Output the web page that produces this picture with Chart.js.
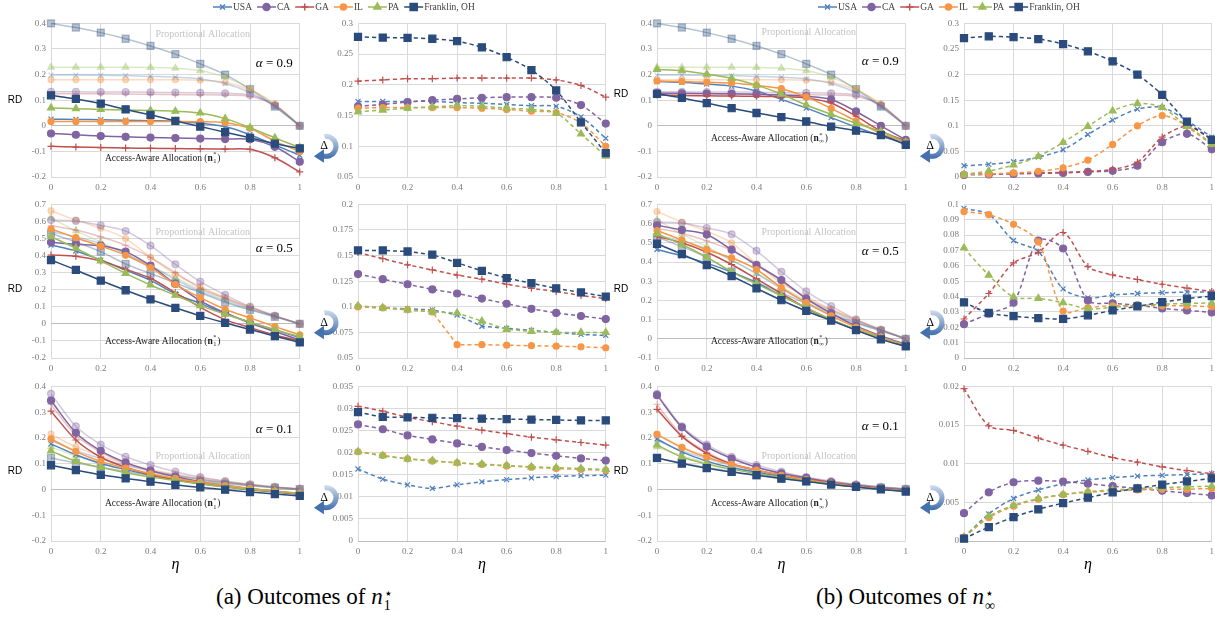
<!DOCTYPE html>
<html>
<head>
<meta charset="utf-8">
<script src="https://cdn.jsdelivr.net/npm/chart.js@4.4.0/dist/chart.umd.min.js"></script>
<style>
  html, body { margin: 0; padding: 0; background: #fff; overflow: hidden; }
  #fig { position: relative; width: 1215px; height: 618px; overflow: hidden; background: #fff; }
  #fig canvas { position: absolute; }
  .cap { position: absolute; top: 584px; font-family: "Liberation Serif", serif; font-size: 23px; color: #000; white-space: nowrap; }
  .cap .ss { display: inline-block; vertical-align: -6px; line-height: 12px; font-size: 14px; margin-left: 1px; }
  .cap .ss span { display: block; }
</style>
</head>
<body>
<div id="fig">
  <div class="cap" style="left:216px">(a) Outcomes of <i>n</i><span class="ss"><span>&#8902;</span><span>1</span></span></div>
  <div class="cap" style="left:816px">(b) Outcomes of <i>n</i><span class="ss"><span>&#8902;</span><span>&#8734;</span></span></div>
</div>
<script>
// x values (eta) and series
const eta = [0, 0.1, 0.2, 0.3, 0.4, 0.5, 0.6, 0.7, 0.8, 0.9, 1];
const names = ['USA', 'CA', 'GA', 'IL', 'PA', 'Franklin, OH'];

// each array: one row per series in the order of names
// Proportional allocation (same in (a) and (b))
const prop09 = [
  [0.198, 0.198, 0.197, 0.196, 0.193, 0.19, 0.183, 0.165, 0.13, 0.075, 0],
  [0.133, 0.133, 0.132, 0.132, 0.131, 0.13, 0.129, 0.127, 0.12, 0.08, 0],
  [0.125, 0.125, 0.125, 0.124, 0.123, 0.122, 0.121, 0.12, 0.115, 0.08, 0],
  [0.18, 0.18, 0.18, 0.18, 0.18, 0.18, 0.178, 0.17, 0.14, 0.085, 0],
  [0.229, 0.229, 0.229, 0.229, 0.228, 0.225, 0.215, 0.19, 0.145, 0.082, 0],
  [0.4, 0.384, 0.364, 0.34, 0.312, 0.28, 0.242, 0.2, 0.143, 0.075, 0]
];
const prop05 = [
  [0.54, 0.51, 0.47, 0.41, 0.34, 0.26, 0.19, 0.135, 0.085, 0.045, 0],
  [0.608, 0.603, 0.577, 0.544, 0.458, 0.349, 0.247, 0.17, 0.101, 0.047, 0],
  [0.575, 0.55, 0.51, 0.46, 0.39, 0.3, 0.21, 0.15, 0.095, 0.045, 0],
  [0.663, 0.608, 0.56, 0.5, 0.39, 0.29, 0.22, 0.155, 0.1, 0.05, 0],
  [0.62, 0.545, 0.48, 0.41, 0.34, 0.27, 0.2, 0.145, 0.09, 0.045, 0],
  [0.53, 0.48, 0.423, 0.351, 0.295, 0.24, 0.183, 0.127, 0.082, 0.041, 0]
];
const prop01 = [
  [0.19, 0.15, 0.12, 0.093, 0.072, 0.055, 0.04, 0.028, 0.017, 0.008, 0.001],
  [0.371, 0.245, 0.174, 0.127, 0.095, 0.069, 0.048, 0.032, 0.02, 0.01, 0.003],
  [0.33, 0.21, 0.145, 0.1, 0.075, 0.055, 0.04, 0.028, 0.017, 0.008, 0.001],
  [0.215, 0.165, 0.13, 0.1, 0.078, 0.06, 0.045, 0.032, 0.02, 0.01, 0.002],
  [0.165, 0.13, 0.105, 0.083, 0.065, 0.05, 0.037, 0.026, 0.016, 0.008, 0.001],
  [0.122, 0.103, 0.085, 0.07, 0.055, 0.042, 0.032, 0.022, 0.014, 0.007, 0.001]
];

// (a) access-aware allocation n1 and its gap
const n1_09 = [
  [0.026, 0.025, 0.024, 0.022, 0.02, 0.018, 0.01, -0.003, -0.035, -0.075, -0.115],
  [-0.03, -0.035, -0.04, -0.043, -0.046, -0.048, -0.05, -0.052, -0.053, -0.082, -0.14],
  [-0.08, -0.083, -0.085, -0.087, -0.088, -0.089, -0.09, -0.091, -0.092, -0.125, -0.18],
  [0.017, 0.017, 0.017, 0.017, 0.017, 0.017, 0.016, 0.012, -0.01, -0.06, -0.1],
  [0.07, 0.067, 0.064, 0.062, 0.06, 0.057, 0.05, 0.028, -0.007, -0.047, -0.085],
  [0.119, 0.105, 0.087, 0.064, 0.043, 0.019, -0.003, -0.025, -0.047, -0.07, -0.088]
];
const d1_09 = [
  [0.173, 0.173, 0.173, 0.173, 0.171, 0.17, 0.168, 0.166, 0.165, 0.148, 0.113],
  [0.165, 0.168, 0.172, 0.175, 0.177, 0.179, 0.18, 0.18, 0.179, 0.167, 0.137],
  [0.206, 0.208, 0.21, 0.21, 0.211, 0.211, 0.211, 0.211, 0.208, 0.199, 0.18],
  [0.162, 0.163, 0.163, 0.163, 0.163, 0.162, 0.16, 0.157, 0.155, 0.138, 0.1],
  [0.156, 0.159, 0.162, 0.164, 0.166, 0.165, 0.162, 0.16, 0.154, 0.12, 0.084],
  [0.278, 0.277, 0.2765, 0.275, 0.271, 0.261, 0.245, 0.224, 0.191, 0.139, 0.089]
];
const n1_05 = [
  [0.462, 0.427, 0.374, 0.315, 0.255, 0.176, 0.12, 0.06, 0.01, -0.035, -0.08],
  [0.478, 0.466, 0.458, 0.423, 0.341, 0.234, 0.135, 0.065, 0.005, -0.045, -0.095],
  [0.403, 0.396, 0.369, 0.32, 0.267, 0.183, 0.097, 0.025, -0.022, -0.065, -0.1],
  [0.556, 0.505, 0.456, 0.402, 0.33, 0.232, 0.154, 0.086, 0.035, -0.016, -0.064],
  [0.511, 0.443, 0.369, 0.296, 0.228, 0.168, 0.107, 0.057, 0.01, -0.035, -0.075],
  [0.374, 0.316, 0.254, 0.197, 0.143, 0.094, 0.047, 0.006, -0.033, -0.072, -0.109]
];
const d1_05 = [
  [0.1, 0.099, 0.098, 0.097, 0.092, 0.081, 0.079, 0.077, 0.075, 0.073, 0.072],
  [0.132, 0.127, 0.122, 0.117, 0.113, 0.108, 0.103, 0.098, 0.094, 0.091, 0.088],
  [0.153, 0.147, 0.141, 0.136, 0.131, 0.127, 0.122, 0.118, 0.115, 0.111, 0.108],
  [0.1, 0.099, 0.097, 0.095, 0.063, 0.063, 0.0625, 0.062, 0.0615, 0.061, 0.06],
  [0.101, 0.099, 0.097, 0.095, 0.094, 0.086, 0.078, 0.076, 0.075, 0.075, 0.075],
  [0.155, 0.155, 0.154, 0.151, 0.143, 0.135, 0.128, 0.123, 0.118, 0.114, 0.11]
];
const n1_01 = [
  [0.177, 0.135, 0.101, 0.077, 0.055, 0.038, 0.025, 0.012, 0.002, -0.008, -0.017],
  [0.345, 0.22, 0.15, 0.105, 0.073, 0.05, 0.03, 0.016, 0.004, -0.007, -0.017],
  [0.304, 0.192, 0.125, 0.086, 0.057, 0.038, 0.022, 0.01, -0.001, -0.01, -0.02],
  [0.196, 0.147, 0.109, 0.083, 0.061, 0.043, 0.028, 0.015, 0.004, -0.006, -0.015],
  [0.15, 0.109, 0.086, 0.065, 0.048, 0.035, 0.022, 0.01, 0, -0.008, -0.016],
  [0.094, 0.075, 0.057, 0.043, 0.03, 0.018, 0.008, -0.001, -0.01, -0.018, -0.025]
];
const d1_01 = [
  [0.0163, 0.014, 0.0127, 0.0119, 0.0127, 0.0134, 0.0139, 0.0143, 0.0146, 0.0148, 0.0149],
  [0.0264, 0.0253, 0.0239, 0.023, 0.0221, 0.0213, 0.0206, 0.0199, 0.0193, 0.0187, 0.0182],
  [0.0305, 0.0294, 0.028, 0.027, 0.026, 0.0251, 0.0243, 0.0235, 0.0229, 0.0223, 0.0217],
  [0.0202, 0.0194, 0.0186, 0.0181, 0.0177, 0.0173, 0.017, 0.0167, 0.0164, 0.0162, 0.016],
  [0.0202, 0.0193, 0.0186, 0.0182, 0.0177, 0.0174, 0.0171, 0.0168, 0.0166, 0.0164, 0.0162],
  [0.0292, 0.0281, 0.028, 0.0279, 0.0278, 0.0277, 0.0276, 0.0275, 0.0274, 0.0273, 0.0273]
];

// (b) access-aware allocation n-infinity and its gap
const nInf_09 = [
  [0.173, 0.17, 0.163, 0.155, 0.136, 0.103, 0.069, 0.032, -0.005, -0.04, -0.07],
  [0.128, 0.127, 0.126, 0.125, 0.123, 0.12, 0.115, 0.103, 0.056, 0, -0.055],
  [0.12, 0.118, 0.117, 0.116, 0.115, 0.114, 0.109, 0.089, 0.0375, -0.02, -0.06],
  [0.175, 0.173, 0.17, 0.167, 0.158, 0.145, 0.113, 0.068, 0.019, -0.03, -0.065],
  [0.22, 0.215, 0.202, 0.185, 0.159, 0.124, 0.0815, 0.045, 0.009, -0.022, -0.065],
  [0.125, 0.109, 0.089, 0.0686, 0.05, 0.0336, 0.0168, -0.003, -0.019, -0.036, -0.074]
];
const dInf_09 = [
  [0.022, 0.0247, 0.0299, 0.039, 0.0532, 0.083, 0.111, 0.1325, 0.1357, 0.11, 0.078],
  [0.004, 0.005, 0.006, 0.007, 0.008, 0.01, 0.012, 0.022, 0.068, 0.0844, 0.054],
  [0.006, 0.006, 0.007, 0.008, 0.009, 0.011, 0.015, 0.029, 0.078, 0.0987, 0.075],
  [0.005, 0.006, 0.008, 0.011, 0.018, 0.033, 0.0636, 0.1, 0.12, 0.1, 0.065],
  [0.005, 0.0117, 0.0234, 0.0403, 0.0675, 0.0987, 0.129, 0.1435, 0.1357, 0.0987, 0.0636],
  [0.2714, 0.2747, 0.273, 0.2695, 0.2597, 0.2455, 0.226, 0.2, 0.1604, 0.108, 0.0727]
];
const nInf_05 = [
  [0.465, 0.432, 0.394, 0.347, 0.292, 0.225, 0.16, 0.1, 0.048, 0.005, -0.038],
  [0.591, 0.567, 0.543, 0.464, 0.384, 0.306, 0.209, 0.133, 0.067, 0.015, -0.028],
  [0.533, 0.5, 0.451, 0.387, 0.312, 0.236, 0.159, 0.1, 0.045, 0, -0.04],
  [0.564, 0.515, 0.464, 0.422, 0.361, 0.266, 0.188, 0.119, 0.06, 0.01, -0.035],
  [0.547, 0.491, 0.425, 0.349, 0.286, 0.224, 0.162, 0.1, 0.05, 0.005, -0.037],
  [0.495, 0.441, 0.384, 0.327, 0.263, 0.201, 0.145, 0.095, 0.045, -0.003, -0.04]
];
const dInf_05 = [
  [0.0974, 0.0935, 0.0765, 0.0694, 0.045, 0.0392, 0.041, 0.042, 0.0425, 0.0429, 0.043],
  [0.022, 0.0289, 0.036, 0.0765, 0.0713, 0.0375, 0.0356, 0.0343, 0.0323, 0.031, 0.0297],
  [0.0254, 0.042, 0.0619, 0.0688, 0.0817, 0.0595, 0.0541, 0.0511, 0.048, 0.0455, 0.0433],
  [0.0953, 0.0933, 0.087, 0.0756, 0.0306, 0.0328, 0.034, 0.034, 0.034, 0.034, 0.0334],
  [0.0716, 0.0539, 0.0397, 0.0388, 0.036, 0.032, 0.033, 0.034, 0.035, 0.0355, 0.0358],
  [0.0362, 0.0293, 0.0272, 0.026, 0.0254, 0.0278, 0.031, 0.0336, 0.0364, 0.0386, 0.0403]
];
const nInf_01 = [
  [0.196, 0.146, 0.11, 0.085, 0.067, 0.05, 0.034, 0.021, 0.01, 0.001, -0.006],
  [0.366, 0.241, 0.166, 0.12, 0.0865, 0.063, 0.045, 0.028, 0.015, 0.005, -0.003],
  [0.311, 0.206, 0.14, 0.099, 0.075, 0.055, 0.04, 0.025, 0.013, 0.003, -0.005],
  [0.214, 0.1626, 0.125, 0.097, 0.075, 0.055, 0.038, 0.024, 0.012, 0.002, -0.006],
  [0.173, 0.126, 0.099, 0.078, 0.062, 0.047, 0.033, 0.02, 0.01, 0.001, -0.007],
  [0.1226, 0.1006, 0.0826, 0.068, 0.0555, 0.0426, 0.031, 0.019, 0.01, 0, -0.008]
];
const dInf_01 = [
  [0.0005, 0.0035, 0.0055, 0.0066, 0.0074, 0.0079, 0.0082, 0.0084, 0.0085, 0.0086, 0.0087],
  [0.0036, 0.0063, 0.0076, 0.0078, 0.0077, 0.0074, 0.0071, 0.0068, 0.0065, 0.0062, 0.0059],
  [0.0197, 0.0149, 0.0143, 0.0133, 0.0124, 0.0116, 0.0108, 0.0102, 0.0096, 0.0091, 0.0087],
  [0.0005, 0.003, 0.0045, 0.0054, 0.006, 0.0063, 0.0065, 0.0066, 0.0067, 0.0067, 0.0068],
  [0.0005, 0.0032, 0.0046, 0.0055, 0.006, 0.0064, 0.0066, 0.0068, 0.0069, 0.007, 0.0071],
  [0.0003, 0.0018, 0.0031, 0.0041, 0.0049, 0.0056, 0.0063, 0.0068, 0.0073, 0.0077, 0.0081]
];

// styles
const colors = ['#4f81bd', '#8064a2', '#c0504d', '#f79646', '#9bbb59', '#2a4b7c'];
const fadedColors = ['rgba(79,129,189,0.34)', 'rgba(128,100,162,0.34)', 'rgba(192,80,77,0.34)',
                     'rgba(247,150,70,0.34)', 'rgba(155,187,89,0.34)', 'rgba(42,75,124,0.34)'];
const markers = ['crossRot', 'circle', 'cross', 'circle', 'triangle', 'rect'];
const markerSizes = [3.5, 3.5, 3.5, 3, 4, 5];

const fig = document.getElementById('fig');
const SERIF = '"Liberation Serif", "DejaVu Serif", serif';
const rows = [[23, 177], [204, 358], [386, 541]];
const cols = { aL: [51, 300], aR: [358, 606], bL: [657, 906], bR: [964, 1212] };

function makeSets(values, opts) {
  return values.map((vals, i) => ({
    label: names[i],
    data: vals.map((v, k) => ({ x: eta[k], y: v })),
    borderColor: opts.faded ? fadedColors[i] : colors[i],
    backgroundColor: opts.faded ? fadedColors[i] : colors[i],
    pointBackgroundColor: opts.faded ? fadedColors[i] : colors[i],
    pointBorderColor: opts.faded ? fadedColors[i] : colors[i],
    borderWidth: 1.5,
    borderDash: opts.dashed ? [4, 3] : [],
    pointStyle: markers[i],
    pointRadius: markerSizes[i],
    pointBorderWidth: 1.2,
    tension: opts.tension,
    clip: false,
    order: opts.faded ? 10 + i : 6 - i
  }));
}

// Delta arrow between the two charts of a panel
function drawArrow(ctx, cx, cy) {
  ctx.save();
  const g = ctx.createLinearGradient(cx, cy - 13, cx, cy + 12);
  g.addColorStop(0, '#d5deee');
  g.addColorStop(1, '#4470ad');
  ctx.strokeStyle = g;
  ctx.lineWidth = 5;
  ctx.beginPath();
  ctx.arc(cx, cy, 10, -Math.PI * 0.55, Math.PI * 0.6);
  ctx.stroke();
  const a = Math.PI * 0.6;
  const ex = cx + 10 * Math.cos(a), ey = cy + 10 * Math.sin(a);
  ctx.fillStyle = '#4470ad';
  ctx.beginPath();
  ctx.moveTo(ex - 9, ey + 0.5);
  ctx.lineTo(ex + 1, ey - 6.5);
  ctx.lineTo(ex + 1, ey + 7);
  ctx.closePath();
  ctx.fill();
  ctx.fillStyle = '#000';
  ctx.font = '12px ' + SERIF;
  ctx.textAlign = 'center';
  ctx.textBaseline = 'middle';
  ctx.fillText('\u0394', cx - 2, cy);
  ctx.restore();
}

function drawAccess(ctx, x, y, sub) {
  ctx.textAlign = 'left';
  ctx.textBaseline = 'middle';
  ctx.fillStyle = '#1a1a1a';
  ctx.font = '9.5px ' + SERIF;
  const s = 'Access-Aware Allocation (';
  ctx.fillText(s, x, y);
  x += ctx.measureText(s).width;
  ctx.font = 'bold 9.5px ' + SERIF;
  ctx.fillText('n', x, y);
  x += ctx.measureText('n').width + 0.5;
  ctx.font = '6.5px ' + SERIF;
  ctx.fillText('*', x, y - 3.5);
  ctx.fillText(sub, x, y + 3);
  x += Math.max(ctx.measureText('*').width, ctx.measureText(sub).width) + 0.8;
  ctx.font = '9.5px ' + SERIF;
  ctx.fillText(')', x, y);
}

const panelText = {
  id: 'panelText',
  afterDraw(chart, args, o) {
    const ctx = chart.ctx, a = chart.chartArea;
    const w = a.right - a.left, h = a.bottom - a.top;
    ctx.save();
    if (o.rd) {
      ctx.font = '10px "Liberation Sans", Arial, sans-serif';
      ctx.fillStyle = '#000';
      ctx.textAlign = 'center';
      ctx.textBaseline = 'middle';
      ctx.fillText('RD', a.left - 36, a.top + h * o.rdY);
    }
    if (o.alpha) {
      ctx.fillStyle = '#000';
      ctx.textBaseline = 'middle';
      ctx.textAlign = 'right';
      ctx.font = '13px ' + SERIF;
      const rest = ' = ' + o.alpha;
      const xr = a.right - 7, yy = a.top + h * o.alphaY;
      ctx.fillText(rest, xr, yy);
      const rw = ctx.measureText(rest).width;
      ctx.font = 'italic 13px ' + SERIF;
      ctx.fillText('\u03b1', xr - rw, yy);
    }
    if (o.prop != null) {
      ctx.fillStyle = '#c4c4c4';
      ctx.font = '10px ' + SERIF;
      ctx.textAlign = 'center';
      ctx.textBaseline = 'middle';
      ctx.fillText('Proportional Allocation', a.left + w * 0.61, a.top + h * o.prop);
    }
    if (o.access != null) {
      drawAccess(ctx, a.left + w * 0.217, a.top + h * o.access, o.sub);
    }
    if (o.arrow != null) {
      drawArrow(ctx, a.left - 32, a.top + h * o.arrow);
    }
    if (o.eta) {
      ctx.fillStyle = '#000';
      ctx.font = 'italic 16px ' + SERIF;
      ctx.textAlign = 'center';
      ctx.textBaseline = 'middle';
      ctx.fillText('\u03b7', a.left + w / 2, a.bottom + 24);
    }
    ctx.restore();
  }
};

const fmt = v => String(+Number(v).toFixed(4));

function makePanel(col, row, left, yMin, yMax, step, datasets, text) {
  const [pl, pr] = cols[col];
  const [pt, pb] = rows[row];
  const yW = left ? 51 : 56;
  const T = 10, X = 17, B = row === 2 ? 16 : 0, R = 7;
  const W = yW + (pr - pl) + R, H = T + (pb - pt) + X + B;
  const cv = document.createElement('canvas');
  cv.width = W; cv.height = H;
  cv.style.left = (pl - yW) + 'px';
  cv.style.top = (pt - T) + 'px';
  cv.style.width = W + 'px';
  cv.style.height = H + 'px';
  fig.appendChild(cv);
  text.eta = row === 2;
  new Chart(cv, {
    type: 'line',
    data: { datasets: datasets },
    options: {
      responsive: false,
      devicePixelRatio: 1,
      animation: false,
      events: [],
      layout: { padding: { top: T, right: R, bottom: B, left: 0 } },
      plugins: { legend: { display: false }, tooltip: { enabled: false }, panelText: text },
      scales: {
        x: {
          type: 'linear', min: 0, max: 1,
          afterFit: s => { s.height = X; },
          border: { display: false },
          grid: { color: '#d9d9d9', drawTicks: false },
          ticks: { stepSize: 0.2, padding: 5, maxRotation: 0, autoSkip: false, color: '#7a7a7a',
                   font: { family: SERIF, size: 9 }, callback: fmt }
        },
        y: {
          min: yMin, max: yMax,
          afterFit: s => { s.width = yW; },
          border: { display: false },
          grid: { color: c => (c.tick && Math.abs(c.tick.value) < 1e-9 ? '#bcbcbc' : '#d9d9d9'), drawTicks: false },
          ticks: { stepSize: step, padding: 5, color: '#7a7a7a', font: { family: SERIF, size: 9 }, callback: fmt }
        }
      }
    },
    plugins: [panelText]
  });
}

function leftSets(main, prop) {
  return makeSets(main, { tension: 0.3 }).concat(makeSets(prop, { faded: true, tension: 0.3 }));
}

// (a) n1
makePanel('aL', 0, true, -0.2, 0.4, 0.1, leftSets(n1_09, prop09),
  { rd: true, rdY: 0.5, alpha: '0.9', alphaY: 0.26, prop: 0.07, access: 0.877, sub: '1' });
makePanel('aR', 0, false, 0.05, 0.3, 0.05, makeSets(d1_09, { dashed: true, tension: 0.3 }), { arrow: 0.8 });
makePanel('aL', 1, true, -0.2, 0.7, 0.1, leftSets(n1_05, prop05),
  { rd: true, rdY: 0.55, alpha: '0.5', alphaY: 0.29, prop: 0.18, access: 0.89, sub: '1' });
makePanel('aR', 1, false, 0.05, 0.2, 0.025, makeSets(d1_05, { dashed: true, tension: 0 }), { arrow: 0.77 });
makePanel('aL', 2, true, -0.2, 0.4, 0.1, leftSets(n1_01, prop01),
  { rd: true, rdY: 0.55, alpha: '0.1', alphaY: 0.28, prop: 0.45, access: 0.76, sub: '1' });
makePanel('aR', 2, false, 0, 0.035, 0.005, makeSets(d1_01, { dashed: true, tension: 0.3 }), { arrow: 0.72 });

// (b) n-infinity
makePanel('bL', 0, true, -0.2, 0.4, 0.1, leftSets(nInf_09, prop09),
  { rd: true, rdY: 0.46, alpha: '0.9', alphaY: 0.25, prop: 0.06, access: 0.75, sub: '\u221e' });
makePanel('bR', 0, false, 0, 0.3, 0.05, makeSets(dInf_09, { dashed: true, tension: 0.3 }), { arrow: 0.8 });
makePanel('bL', 1, true, -0.1, 0.7, 0.1, leftSets(nInf_05, prop05),
  { rd: true, rdY: 0.55, alpha: '0.5', alphaY: 0.31, prop: 0.18, access: 0.89, sub: '\u221e' });
makePanel('bR', 1, false, 0, 0.1, 0.01, makeSets(dInf_05, { dashed: true, tension: 0.3 }), { arrow: 0.77 });
makePanel('bL', 2, true, -0.2, 0.4, 0.1, leftSets(nInf_01, prop01),
  { rd: true, rdY: 0.55, alpha: '0.1', alphaY: 0.26, prop: 0.45, access: 0.76, sub: '\u221e' });
makePanel('bR', 2, false, 0, 0.02, 0.005, makeSets(dInf_01, { dashed: true, tension: 0.3 }), { arrow: 0.72 });

// legends at the top of each half
const legendDraw = {
  id: 'legendDraw',
  afterDraw(chart) {
    const ctx = chart.ctx;
    let x = 8;
    const y = 7;
    ctx.save();
    ctx.font = '9.5px ' + SERIF;
    ctx.textBaseline = 'middle';
    ctx.textAlign = 'left';
    chart.data.datasets.forEach(ds => {
      ctx.strokeStyle = ds.borderColor;
      ctx.lineWidth = 1.5;
      ctx.beginPath();
      ctx.moveTo(x, y);
      ctx.lineTo(x + 19, y);
      ctx.stroke();
      ctx.fillStyle = ds.borderColor;
      Chart.helpers.drawPoint(ctx, { pointStyle: ds.pointStyle, radius: ds.pointRadius, borderWidth: 1.2, rotation: 0 }, x + 9.5, y);
      ctx.fillStyle = '#404040';
      ctx.fillText(ds.label, x + 20, y + 0.5);
      x += 20 + ctx.measureText(ds.label).width + 5;
    });
    ctx.restore();
  }
};

[205, 810].forEach(lx => {
  const cv = document.createElement('canvas');
  cv.width = 280; cv.height = 14;
  cv.style.left = lx + 'px';
  cv.style.top = '0px';
  cv.style.width = '280px';
  cv.style.height = '14px';
  fig.appendChild(cv);
  new Chart(cv, {
    type: 'line',
    data: { datasets: makeSets(names.map(() => []), { tension: 0 }) },
    options: {
      responsive: false, devicePixelRatio: 1, animation: false, events: [],
      plugins: { legend: { display: false }, tooltip: { enabled: false } },
      scales: { x: { type: 'linear', display: false }, y: { display: false } }
    },
    plugins: [legendDraw]
  });
});
</script>
</body>
</html>
